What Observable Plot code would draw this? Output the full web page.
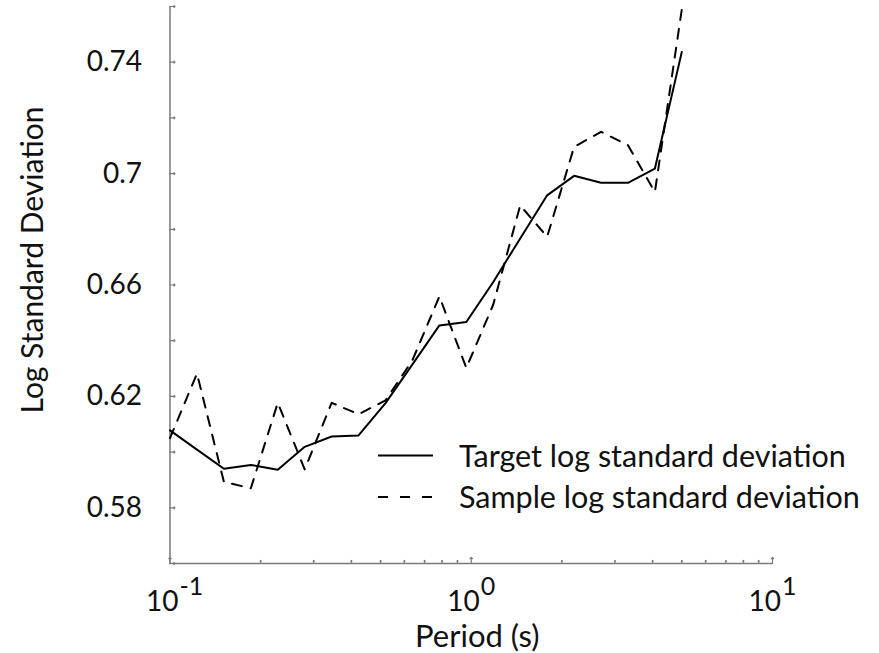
<!DOCTYPE html>
<html>
<head>
<meta charset="utf-8">
<script src="https://cdn.jsdelivr.net/npm/d3@7"></script>
<script src="https://cdn.jsdelivr.net/npm/@observablehq/plot@0.6"></script>
<style>
  html, body { margin: 0; padding: 0; background: #fff; }
  #wrap { position: relative; width: 879px; height: 653px; }
  #legend { position: absolute; left: 0; top: 0; pointer-events: none; }
</style>
</head>
<body>
<div id="wrap"></div>
<script>
// Periods (s)
const periods = [0.1, 0.1229, 0.1510, 0.1855, 0.2279, 0.2800, 0.3440, 0.4226, 0.5193, 0.6380,
                 0.7839, 0.9631, 1.1833, 1.4538, 1.7862, 2.1946, 2.6964, 3.3129, 4.0703, 5.0];
// Target log standard deviation (solid)
const targetStd = [0.6078, 0.6009, 0.5940, 0.5954, 0.5937, 0.6019, 0.6056, 0.6060, 0.6176, 0.6315,
                   0.6455, 0.6467, 0.6611, 0.6767, 0.6922, 0.6992, 0.6967, 0.6967, 0.7018, 0.7437];
// Sample log standard deviation (dashed)
const sampleStd = [0.6050, 0.6282, 0.5893, 0.5870, 0.6177, 0.5938, 0.6177, 0.6136, 0.6186, 0.6330,
                   0.6559, 0.6302, 0.6530, 0.6886, 0.6773, 0.7096, 0.7150, 0.7102, 0.6934, 0.7590];
// Tick values and labels
const yTickValues = [0.56, 0.58, 0.60, 0.62, 0.64, 0.66, 0.68, 0.70, 0.72, 0.74, 0.76];
const yLabelValues = [0.58, 0.62, 0.66, 0.70, 0.74];
const yLabelTexts = ["0.58", "0.62", "0.66", "0.7", "0.74"];
const xMajor = [0.1, 1, 10];
const xExponents = ["-1", "0", "1"];
const xMinor = [0.2, 0.3, 0.4, 0.5, 0.6, 0.7, 0.8, 0.9, 2, 3, 4, 5, 6, 7, 8, 9];
const legendLabels = ["Target log standard deviation", "Sample log standard deviation"];

const FONT = "Lato, 'Open Sans', sans-serif";
const AXIS = "#7a7a7a";
const INK = "#111";

const rows = periods.map((p, i) => ({p, target: targetStd[i], sample: sampleStd[i]}));
const yLab = yLabelValues.map((v, i) => ({v, t: yLabelTexts[i]}));
const xLab = xMajor.map((v, i) => ({v, e: xExponents[i]}));

const chart = Plot.plot({
  width: 879,
  height: 653,
  marginLeft: 169.5,
  marginRight: 107,
  marginTop: 6,
  marginBottom: 90,
  style: {fontFamily: FONT, background: "#fff", color: INK},
  x: {type: "log", domain: [0.1, 10], axis: null},
  y: {domain: [0.56, 0.76], axis: null},
  marks: [
    // axis lines
    Plot.ruleX([0.1], {y1: 0.56, y2: 0.76, stroke: AXIS, strokeWidth: 1.5}),
    Plot.ruleY([0.56], {x1: 0.1, x2: 10, stroke: AXIS, strokeWidth: 1.5}),
    // inward ticks
    Plot.vector(yTickValues, {x: 0.1, y: d => d, length: 5, rotate: 90, anchor: "start", stroke: AXIS, strokeWidth: 1.2}),
    Plot.vector(xMajor, {x: d => d, y: 0.56, length: 6, rotate: 0, anchor: "start", stroke: AXIS, strokeWidth: 1.2}),
    Plot.vector(xMinor, {x: d => d, y: 0.56, length: 3, rotate: 0, anchor: "start", stroke: AXIS, strokeWidth: 1.2}),
    // y tick labels
    Plot.text(yLab, {x: 0.1, y: "v", text: "t", textAnchor: "end", dx: -28, fontSize: 28, fill: INK}),
    // x tick labels: base and exponent (raised, nearly same size)
    Plot.text(xLab, {x: "v", y: 0.56, text: () => "10", textAnchor: "end", dx: 8.5, dy: 39, fontSize: 28, fill: INK}),
    Plot.text(xLab, {x: "v", y: 0.56, text: "e", textAnchor: "start", dx: 9.5, dy: 23, fontSize: 25, fill: INK}),
    // axis titles
    Plot.text(["Log Standard Deviation"], {frameAnchor: "left", text: d => d, rotate: -90, textAnchor: "middle", lineAnchor: "middle", dx: -137, dy: -25, fontSize: 30, fill: INK}),
    Plot.text(["Period (s)"], {frameAnchor: "bottom", text: d => d, textAnchor: "middle", lineAnchor: "middle", dx: 6, dy: 74, fontSize: 31, fill: INK}),
    // data
    Plot.line(rows, {x: "p", y: "sample", stroke: "#000", strokeWidth: 2, strokeDasharray: "10,9"}),
    Plot.line(rows, {x: "p", y: "target", stroke: "#000", strokeWidth: 2})
  ]
});

const wrap = document.getElementById("wrap");
wrap.appendChild(chart);

// Legend overlay (inside the plot area, lower right)
const ns = "http://www.w3.org/2000/svg";
const leg = document.createElementNS(ns, "svg");
leg.setAttribute("id", "legend");
leg.setAttribute("width", 879);
leg.setAttribute("height", 653);
const items = [
  {label: legendLabels[0], dash: null, ly: 455.5, ty: 466.5},
  {label: legendLabels[1], dash: "10,12", ly: 497, ty: 508}
];
for (const it of items) {
  const ln = document.createElementNS(ns, "line");
  ln.setAttribute("x1", 378); ln.setAttribute("x2", 433);
  ln.setAttribute("y1", it.ly); ln.setAttribute("y2", it.ly);
  ln.setAttribute("stroke", "#000"); ln.setAttribute("stroke-width", 2);
  if (it.dash) ln.setAttribute("stroke-dasharray", it.dash);
  leg.appendChild(ln);
  const tx = document.createElementNS(ns, "text");
  tx.setAttribute("x", 459); tx.setAttribute("y", it.ty);
  tx.setAttribute("font-family", FONT);
  tx.setAttribute("font-size", 30.5);
  tx.setAttribute("fill", INK);
  tx.textContent = it.label;
  leg.appendChild(tx);
}
wrap.appendChild(leg);
</script>
</body>
</html>
